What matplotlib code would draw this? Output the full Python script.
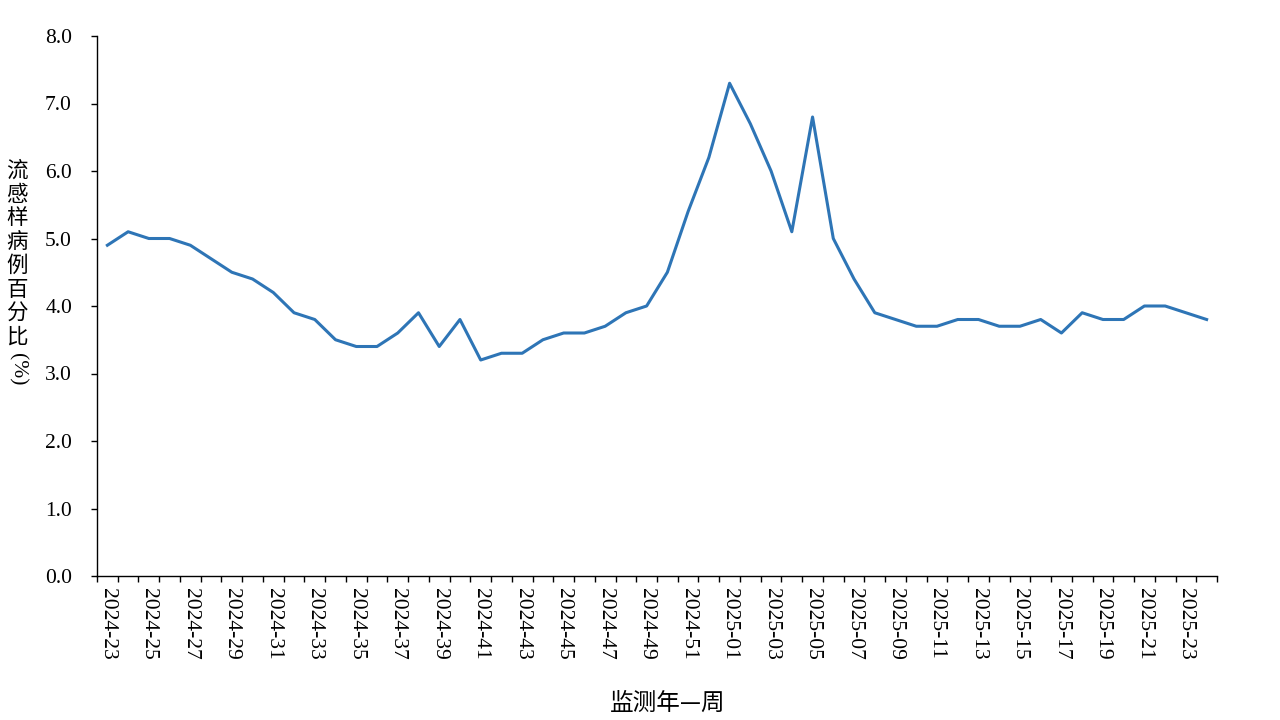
import matplotlib
matplotlib.use("Agg")
import matplotlib.pyplot as plt
from matplotlib.ticker import FixedLocator, FormatStrFormatter

# weeks 2024-23 .. 2024-52, 2025-01 .. 2025-24
weeks = [f"2024-{w:02d}" for w in range(23, 53)] + [f"2025-{w:02d}" for w in range(1, 25)]

ili_pct = [4.9, 5.1, 5.0, 5.0, 4.9, 4.7, 4.5, 4.4, 4.2, 3.9,
           3.8, 3.5, 3.4, 3.4, 3.6, 3.9, 3.4, 3.8, 3.2, 3.3,
           3.3, 3.5, 3.6, 3.6, 3.7, 3.9, 4.0, 4.5, 5.4, 6.2,
           7.3, 6.7, 6.0, 5.1, 6.8, 5.0, 4.4, 3.9, 3.8, 3.7,
           3.7, 3.8, 3.8, 3.7, 3.7, 3.8, 3.6, 3.9, 3.8, 3.8,
           4.0, 4.0, 3.9, 3.8]

y_ticks = [0, 1, 2, 3, 4, 5, 6, 7, 8]
y_label = "流感样病例百分比"
y_unit = "(%)"
x_label = "监测年—周"

serif = ["Liberation Serif", "DejaVu Serif"]
cjk = ["Noto Sans CJK SC", "DejaVu Sans"]

fig = plt.figure(figsize=(12.8, 7.2), dpi=100)
ax = fig.add_axes([97 / 1280, 1 - 576 / 720, (1217 - 97) / 1280, (576 - 36) / 720])

x = list(range(len(weeks)))
ax.plot(x, ili_pct, color="#2E75B6", linewidth=2.2)

ax.set_xlim(-0.5, len(weeks) - 0.5)
ax.set_ylim(0, 8)

# tick marks on category boundaries, labels every second week
ax.xaxis.set_major_locator(FixedLocator([i - 0.5 for i in range(len(weeks) + 1)]))
ax.xaxis.set_major_formatter(plt.NullFormatter())
ax.xaxis.set_minor_locator(FixedLocator(x[::2]))
ax.set_xticklabels(weeks[::2], minor=True, rotation=270, fontsize=15.5,
                   family=serif, va="top", ha="center")
ax.tick_params(axis="x", which="major", direction="out", length=4.5, width=1, color="black")
ax.tick_params(axis="x", which="minor", length=0, pad=9)

ax.set_yticks(y_ticks)
ax.yaxis.set_major_formatter(FormatStrFormatter("%.1f"))
for lab in ax.get_yticklabels():
    lab.set_family(serif)
    lab.set_fontsize(15.5)
ax.tick_params(axis="y", direction="out", length=4.5, width=1, pad=13.5)

for s in ["top", "right"]:
    ax.spines[s].set_visible(False)
for s in ["left", "bottom"]:
    ax.spines[s].set_linewidth(1)

# vertical y label, stacked characters
fig.text(17 / 1280, 1 - 254 / 720, "\n".join(y_label), family=cjk, fontsize=15.5,
         ha="center", va="center", linespacing=1.1)
fig.text(17 / 1280, 1 - 369 / 720, y_unit, family=serif, fontsize=15.5,
         ha="center", va="center", rotation=270)

fig.text(668 / 1280, 1 - 703 / 720, x_label, family=cjk, fontsize=17,
         ha="center", va="center")

fig.savefig("out.png", dpi=100)
